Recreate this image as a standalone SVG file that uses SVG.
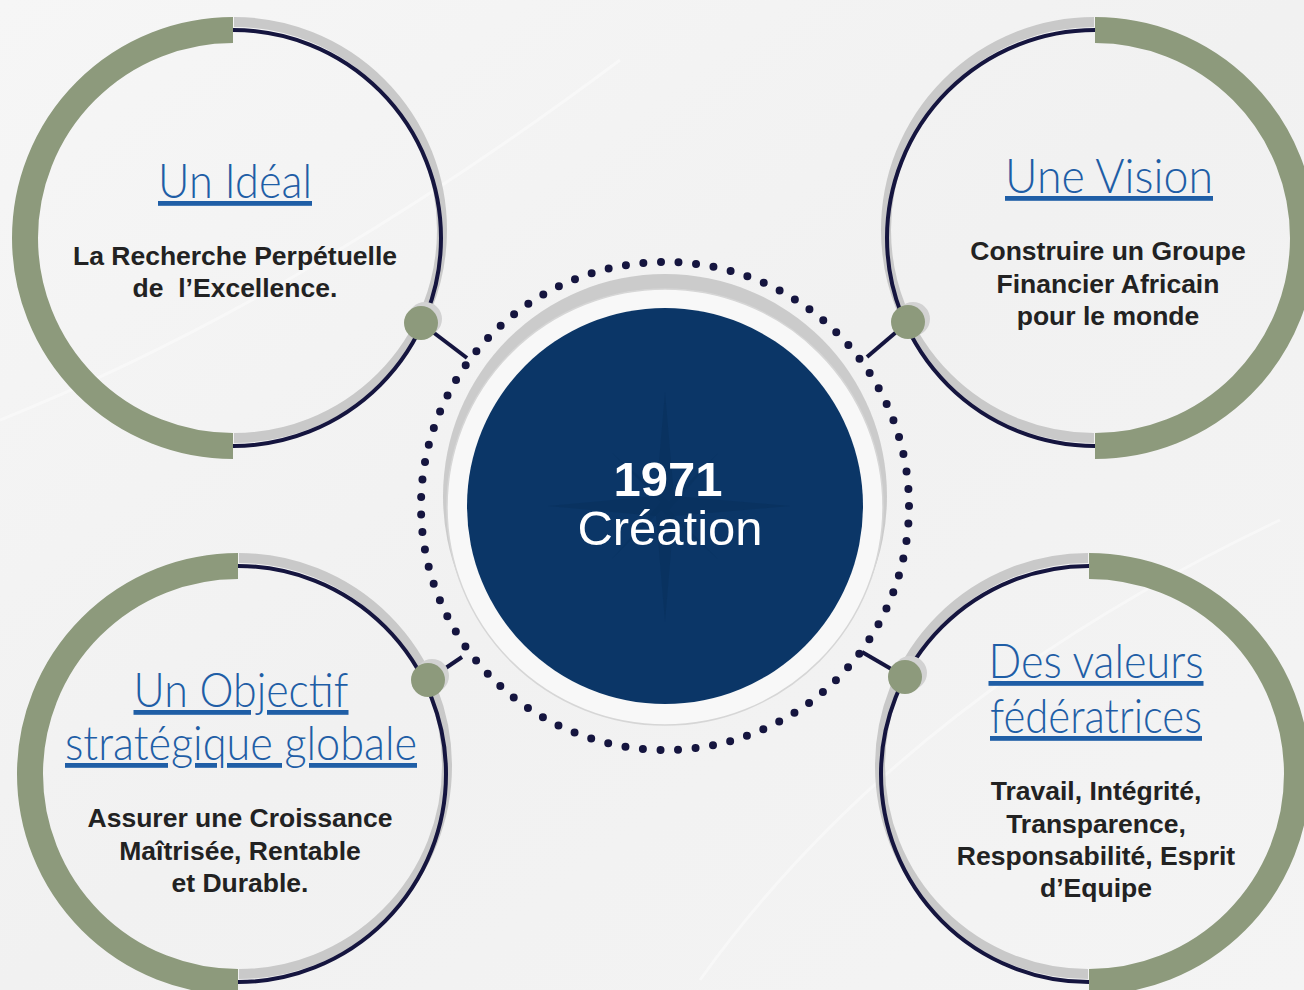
<svg xmlns="http://www.w3.org/2000/svg" width="1304" height="990" viewBox="0 0 1304 990">
<defs>
<linearGradient id="bg" x1="0" y1="0" x2="1" y2="1">
<stop offset="0" stop-color="#f6f6f6"/>
<stop offset="0.5" stop-color="#f1f1f1"/>
<stop offset="1" stop-color="#f4f4f4"/>
</linearGradient>
<style>
.green{fill:none;stroke:#8d9a7c;stroke-width:26}
.navy{fill:none;stroke:#15153f;stroke-width:4}
.shadow{fill:none;stroke:#c9c9c9;stroke-width:10}
.dot{fill:#8d9a7c}
.dotsh{fill:#d2d2d2}
.title{font-family:Lato,"Open Sans","Liberation Sans",sans-serif;font-weight:300;font-size:48px;fill:#1f5ea6;text-anchor:middle;text-decoration:underline}
.body{font-family:"Liberation Sans",Arial,sans-serif;font-weight:bold;font-size:26.5px;fill:#222222;text-anchor:middle;white-space:pre}
.conn{stroke:#15153f;stroke-width:4;fill:none}
</style>
</defs>
<rect width="1304" height="990" fill="url(#bg)"/>
<path d="M0 420 Q300 300 620 60" stroke="#ffffff" stroke-width="3" fill="none" opacity="0.4"/>
<path d="M700 980 Q900 700 1280 520" stroke="#ffffff" stroke-width="3" fill="none" opacity="0.4"/>

<g id="connectors">
<line class="conn" x1="421" y1="323" x2="467" y2="358"/>
<line class="conn" x1="908" y1="322" x2="867" y2="357"/>
<line class="conn" x1="428" y1="680" x2="462" y2="657"/>
<line class="conn" x1="905" y1="677" x2="862" y2="652"/>
</g>

<g id="center">
<circle cx="665" cy="506" r="244" fill="none" stroke="#15153f" stroke-width="8" stroke-linecap="round" stroke-dasharray="0 17.62"/>
<circle cx="665" cy="496" r="222" fill="#cbcbcb"/>
<circle cx="665" cy="507" r="218" fill="#f8f8f8" stroke="#d6d6d6" stroke-width="1.5"/>
<circle cx="665" cy="506" r="198" fill="#0b3667"/>
<polygon points="665,392 674,496 790,506 674,516 665,622 656,516 548,506 656,496" fill="#08305c" opacity="0.6"/>
<polygon points="612,453 669,502 718,453 669,510 718,559 661,510 612,559 661,502" fill="#08305c" opacity="0.4"/>
<text font-family="Liberation Sans, Arial, sans-serif" font-size="49" fill="#ffffff" text-anchor="middle"><tspan x="668" y="496" font-weight="bold">1971</tspan><tspan x="670" y="545">Création</tspan></text>
</g>

<g id="node-ideal">
<path class="shadow" d="M234 22 A208 208 0 0 1 234 438"/>
<path class="navy" d="M233 30 A208 208 0 0 1 233 446"/>
<path class="green" d="M233 30 A208 208 0 0 0 233 446"/>
<circle class="dotsh" cx="425" cy="319" r="17"/>
<circle class="dot" cx="421" cy="323" r="17"/>
<text class="title" x="235" y="198" textLength="154" lengthAdjust="spacingAndGlyphs">Un Idéal</text>
<text class="body" x="235" y="265">La Recherche Perpétuelle</text>
<text class="body" x="235" y="297">de  l’Excellence.</text>
</g>

<g id="node-vision">
<path class="shadow" d="M1094 22 A208 208 0 0 0 1094 438"/>
<path class="navy" d="M1095 30 A208 208 0 0 0 1095 446"/>
<path class="green" d="M1095 30 A208 208 0 0 1 1095 446"/>
<circle class="dotsh" cx="913" cy="319" r="17"/>
<circle class="dot" cx="908" cy="322" r="17"/>
<text class="title" x="1109" y="193" textLength="208" lengthAdjust="spacingAndGlyphs">Une Vision</text>
<text class="body" x="1108" y="260">Construire un Groupe</text>
<text class="body" x="1108" y="293">Financier Africain</text>
<text class="body" x="1108" y="325">pour le monde</text>
</g>

<g id="node-objectif">
<path class="shadow" d="M239 558 A208 208 0 0 1 239 974"/>
<path class="navy" d="M238 566 A208 208 0 0 1 238 982"/>
<path class="green" d="M238 566 A208 208 0 0 0 238 982"/>
<circle class="dotsh" cx="432" cy="676" r="17"/>
<circle class="dot" cx="428" cy="680" r="17"/>
<text class="title" x="241" y="707" textLength="215" lengthAdjust="spacingAndGlyphs">Un Objectif</text>
<text class="title" x="241" y="760" textLength="352" lengthAdjust="spacingAndGlyphs">stratégique globale</text>
<text class="body" x="240" y="827">Assurer une Croissance</text>
<text class="body" x="240" y="860">Maîtrisée, Rentable</text>
<text class="body" x="240" y="892">et Durable.</text>
</g>

<g id="node-valeurs">
<path class="shadow" d="M1088 558 A208 208 0 0 0 1088 974"/>
<path class="navy" d="M1089 566 A208 208 0 0 0 1089 982"/>
<path class="green" d="M1089 566 A208 208 0 0 1 1089 982"/>
<circle class="dotsh" cx="910" cy="673" r="17"/>
<circle class="dot" cx="905" cy="677" r="17"/>
<text class="title" x="1096" y="678" textLength="215" lengthAdjust="spacingAndGlyphs">Des valeurs</text>
<text class="title" x="1096" y="733" textLength="212" lengthAdjust="spacingAndGlyphs">fédératrices</text>
<text class="body" x="1096" y="800">Travail, Intégrité,</text>
<text class="body" x="1096" y="833">Transparence,</text>
<text class="body" x="1096" y="865">Responsabilité, Esprit</text>
<text class="body" x="1096" y="897">d’Equipe</text>
</g>
</svg>
